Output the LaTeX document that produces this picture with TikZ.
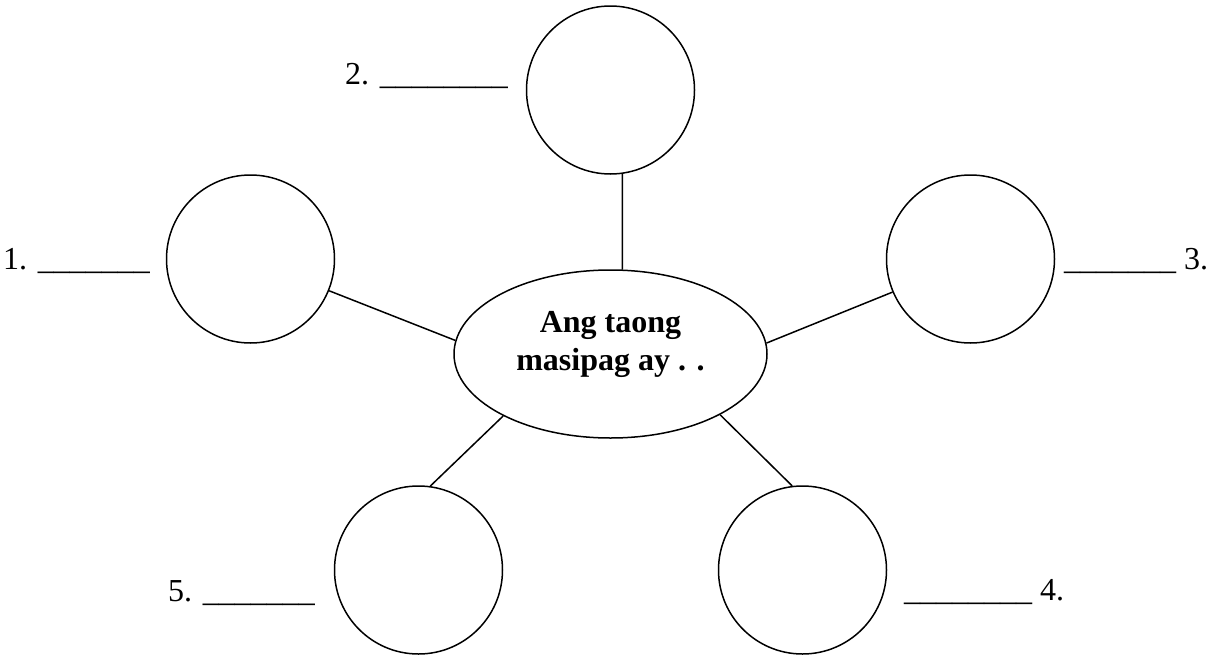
\documentclass[tikz,border=0pt]{standalone}
\usepackage{fontspec}
\setmainfont{Liberation Serif}
\usetikzlibrary{shapes.geometric}
\newcommand{\blanks}[1]{\foreach \k in {1,...,#1}{\textunderscore}}
\begin{document}
\begin{tikzpicture}[x=1pt,y=-1pt,
  bubble/.style={circle,draw,line width=1.5pt,minimum size=168pt,inner sep=0pt},
  hub/.style={ellipse,draw,line width=1.5pt,minimum width=313pt,minimum height=168pt,inner sep=0pt},
  lbl/.style={anchor=base west,inner sep=0pt,font=\fontsize{32}{38}\selectfont},
  ttl/.style={anchor=base,inner sep=0pt,font=\fontsize{32}{38}\selectfont\bfseries},
  link/.style={line width=1.5pt}]
\useasboundingbox (0,0) rectangle (1208,656);
\node[hub] (ell) at (610.5,354) {};
\node[ttl] (t1) at (610.5,332) {Ang taong};
\node[ttl] (t2) at (610.5,370) {masipag ay . .};
\node[bubble] (c1) at (250.5,259) {};
\node[bubble] (c2) at (610.5,90) {};
\node[bubble] (c3) at (970.5,259) {};
\node[bubble] (c4) at (802.5,570) {};
\node[bubble] (c5) at (418.5,570) {};
\draw[link] (c2.-82) -- (ell.82);
\draw[link] (c1.-22.7) -- (ell.175.6);
\draw[link] (c3.-157.3) -- (ell.4.4);
\draw[link] (c5.82.2) -- (ell.-150.7);
\draw[link] (c4.97.8) -- (ell.-29.3);
\node[lbl] (l1) at (3,269) {1. \blanks{7}};
\node[lbl] (l2) at (345,84) {2. \blanks{8}};
\node[lbl] (l3) at (1064,269) {\blanks{7} 3.};
\node[lbl] (l4) at (904,600) {\blanks{8} 4.};
\node[lbl] (l5) at (168,601) {5. \blanks{7}};
\end{tikzpicture}
\end{document}
